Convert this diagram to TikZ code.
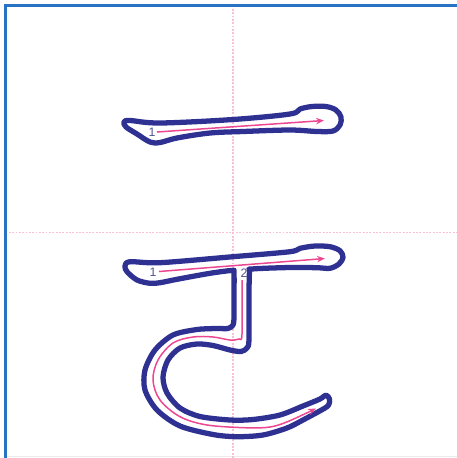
\documentclass[tikz,border=0pt]{standalone}
\usepackage{fontspec}
\setmainfont{Liberation Sans}
\usetikzlibrary{arrows.meta}
\definecolor{inkblue}{RGB}{46,49,146}
\definecolor{pathpink}{RGB}{236,72,146}
\definecolor{guidepink}{RGB}{250,192,216}
\definecolor{framblue}{RGB}{40,115,195}
\definecolor{numblue}{RGB}{80,80,150}
\begin{document}
\begin{tikzpicture}[x=0.02cm, y=-0.02cm,
  outline/.style={draw=inkblue, line width=3pt, line join=round},
  stroke/.style={draw=pathpink, line width=0.85pt, -{Stealth[length=4.5pt,width=3.6pt]}},
  guide/.style={draw=guidepink, line width=0.6pt, dash pattern=on 1.1pt off 0.8pt},
  num/.style={text=numblue, inner sep=0pt, font=\fontsize{7}{8}\selectfont}]
  \useasboundingbox (0,0) rectangle (457,458);
  % frame and guides
  \draw[black!8, line width=0.5pt] (5.5,456.5) -- (457,456.5);
  \draw[guide] (233,5.5) -- (233,458)   (5.5,232.5) -- (457,232.5);
  \draw[framblue, line width=1.4pt] (5.5,458) -- (5.5,5.5) -- (457,5.5);

  % stroke 1 alone
  \draw[outline] plot[smooth cycle, tension=0.55] coordinates {
    (124,122) (130,120.5) (160,123) (233,119.5) (290,114) (300,109) (312,106.5)
    (326,106.5) (336,110) (341,117) (340,125) (333,131) (317,131.5) (290,130)
    (243,131.5) (210,133) (177,138) (160,142.5) (150,142) (137,134) (126,127)};
  \coordinate (a1) at (157,132);  \coordinate (b1) at (324,120.5);
  \draw[stroke] (a1) -- (b1);
  \node[num] (n1) at (152,132.5) {1};

  % strokes 1 and 2 together
  \draw[outline] plot[smooth cycle, tension=0.5] coordinates {
    (125,266) (130,261.7) (160,262.7) (233,256.7) (290,251.7) (300,248.3) (315,246)
    (330,246.7) (340,250.7) (343,257.3) (339,264) (330,268.3) (317,267.7) (290,267.5)
    (252,269) (249.5,272) (249,300) (249,340) (247,348) (241,351.5) (230,350)
    (213,345.5) (197,344) (180,348) (168,360) (163,377) (167,393) (180,408)
    (200,416.5) (230,420) (253,419.5) (280,415) (303,406) (320,399) (326,395)
    (329.5,399) (329,404) (325,408) (303,420) (287,428) (263,435) (237,436.7)
    (213,434.5) (180,426) (157,410) (145,390) (145,370) (155,350) (173,335)
    (197,329.5) (217,328.5) (228,328.5) (233,325) (234,318) (234,300) (234,273)
    (232,270.5) (210,273.3) (177,279.3) (160,282.7) (150,283.3) (137,280) (127,271.7)};
  \coordinate (a2) at (159,271.5);  \coordinate (b2) at (325,258.5);
  \draw[stroke] (a2) -- (b2);
  \coordinate (a3) at (242,280);  \coordinate (b3) at (316,408.5);
  \draw[stroke] plot[smooth, tension=0.55] coordinates {
    (a3) (242,334) (239,339) (230,340) (213,337) (193,337) (173,343) (158,360)
    (153,380) (160,400) (180,416.7) (207,425) (247,427.8) (270,427) (288,421.5) (b3)};
  \node[num] (n2) at (153,272) {1};
  \node[num] (n3) at (244,273.5) {2};
\end{tikzpicture}
\end{document}
